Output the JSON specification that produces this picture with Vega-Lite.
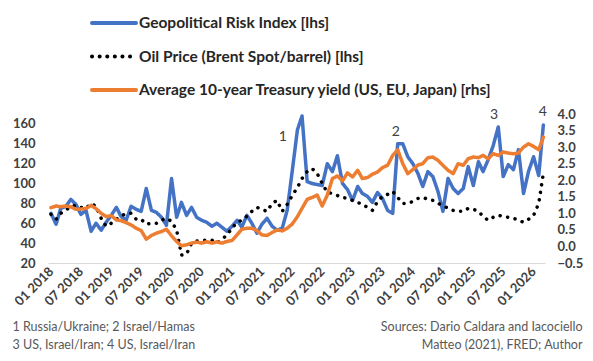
{
  "$schema": "https://vega.github.io/schema/vega-lite/v6.json",
  "width": 497,
  "height": 149,
  "autosize": {"type": "none"},
  "padding": {"left": 48, "top": 114, "right": 48, "bottom": 98},
  "background": "white",
  "config": {"view": {"stroke": null}, "font": "Lato"},
  "datasets": {
    "main": [
      {"date": "2018-01-01", "gpr": 70, "oil": 69, "yld": 1.17},
      {"date": "2018-02-01", "gpr": 59, "oil": 64, "yld": 1.22},
      {"date": "2018-03-01", "gpr": 75, "oil": 70, "yld": 1.2},
      {"date": "2018-04-01", "gpr": 77, "oil": 73, "yld": 1.22},
      {"date": "2018-05-01", "gpr": 84, "oil": 77, "yld": 1.2},
      {"date": "2018-06-01", "gpr": 79, "oil": 78, "yld": 1.12},
      {"date": "2018-07-01", "gpr": 69, "oil": 76, "yld": 1.13},
      {"date": "2018-08-01", "gpr": 73, "oil": 75, "yld": 1.15},
      {"date": "2018-09-01", "gpr": 52, "oil": 80, "yld": 1.24},
      {"date": "2018-10-01", "gpr": 60, "oil": 77, "yld": 1.14},
      {"date": "2018-11-01", "gpr": 53, "oil": 65, "yld": 1.0},
      {"date": "2018-12-01", "gpr": 61, "oil": 57, "yld": 0.9},
      {"date": "2019-01-01", "gpr": 68, "oil": 60, "yld": 0.93},
      {"date": "2019-02-01", "gpr": 76, "oil": 64, "yld": 0.8},
      {"date": "2019-03-01", "gpr": 67, "oil": 67, "yld": 0.78},
      {"date": "2019-04-01", "gpr": 63, "oil": 70, "yld": 0.72},
      {"date": "2019-05-01", "gpr": 77, "oil": 70, "yld": 0.65},
      {"date": "2019-06-01", "gpr": 74, "oil": 64, "yld": 0.55},
      {"date": "2019-07-01", "gpr": 72, "oil": 64, "yld": 0.48},
      {"date": "2019-08-01", "gpr": 95, "oil": 59, "yld": 0.22},
      {"date": "2019-09-01", "gpr": 73, "oil": 60, "yld": 0.33},
      {"date": "2019-10-01", "gpr": 71, "oil": 60, "yld": 0.4},
      {"date": "2019-11-01", "gpr": 66, "oil": 63, "yld": 0.45},
      {"date": "2019-12-01", "gpr": 58, "oil": 65, "yld": 0.52},
      {"date": "2020-01-01", "gpr": 105, "oil": 62, "yld": 0.32},
      {"date": "2020-02-01", "gpr": 66, "oil": 53, "yld": 0.15},
      {"date": "2020-03-01", "gpr": 81, "oil": 28, "yld": 0.02},
      {"date": "2020-04-01", "gpr": 68, "oil": 29, "yld": 0.05},
      {"date": "2020-05-01", "gpr": 76, "oil": 40, "yld": 0.1},
      {"date": "2020-06-01", "gpr": 66, "oil": 42, "yld": 0.13},
      {"date": "2020-07-01", "gpr": 63, "oil": 43, "yld": 0.1},
      {"date": "2020-08-01", "gpr": 61, "oil": 43, "yld": 0.14},
      {"date": "2020-09-01", "gpr": 57, "oil": 43, "yld": 0.1},
      {"date": "2020-10-01", "gpr": 60, "oil": 40, "yld": 0.14},
      {"date": "2020-11-01", "gpr": 56, "oil": 44, "yld": 0.1},
      {"date": "2020-12-01", "gpr": 52, "oil": 48, "yld": 0.15},
      {"date": "2021-01-01", "gpr": 57, "oil": 55, "yld": 0.18},
      {"date": "2021-02-01", "gpr": 63, "oil": 61, "yld": 0.35},
      {"date": "2021-03-01", "gpr": 56, "oil": 63, "yld": 0.52},
      {"date": "2021-04-01", "gpr": 68, "oil": 67, "yld": 0.55},
      {"date": "2021-05-01", "gpr": 60, "oil": 72, "yld": 0.55},
      {"date": "2021-06-01", "gpr": 50, "oil": 76, "yld": 0.48},
      {"date": "2021-07-01", "gpr": 59, "oil": 74, "yld": 0.35},
      {"date": "2021-08-01", "gpr": 65, "oil": 72, "yld": 0.33},
      {"date": "2021-09-01", "gpr": 57, "oil": 80, "yld": 0.42},
      {"date": "2021-10-01", "gpr": 53, "oil": 83, "yld": 0.5},
      {"date": "2021-11-01", "gpr": 55, "oil": 72, "yld": 0.47},
      {"date": "2021-12-01", "gpr": 73, "oil": 79, "yld": 0.55},
      {"date": "2022-01-01", "gpr": 113, "oil": 88, "yld": 0.68},
      {"date": "2022-02-01", "gpr": 154, "oil": 96, "yld": 0.9},
      {"date": "2022-03-01", "gpr": 168, "oil": 105, "yld": 1.15},
      {"date": "2022-04-01", "gpr": 102, "oil": 112, "yld": 1.42},
      {"date": "2022-05-01", "gpr": 100, "oil": 115, "yld": 1.48},
      {"date": "2022-06-01", "gpr": 99, "oil": 110, "yld": 1.55},
      {"date": "2022-07-01", "gpr": 98, "oil": 100, "yld": 1.22},
      {"date": "2022-08-01", "gpr": 120, "oil": 91, "yld": 1.55},
      {"date": "2022-09-01", "gpr": 112, "oil": 90, "yld": 2.05},
      {"date": "2022-10-01", "gpr": 128, "oil": 88, "yld": 2.13},
      {"date": "2022-11-01", "gpr": 100, "oil": 86, "yld": 1.98},
      {"date": "2022-12-01", "gpr": 94, "oil": 85, "yld": 2.22},
      {"date": "2023-01-01", "gpr": 83, "oil": 83, "yld": 2.1},
      {"date": "2023-02-01", "gpr": 97, "oil": 81, "yld": 2.3},
      {"date": "2023-03-01", "gpr": 90, "oil": 79, "yld": 2.05},
      {"date": "2023-04-01", "gpr": 87, "oil": 76, "yld": 2.08},
      {"date": "2023-05-01", "gpr": 81, "oil": 73, "yld": 2.18},
      {"date": "2023-06-01", "gpr": 91, "oil": 82, "yld": 2.25},
      {"date": "2023-07-01", "gpr": 85, "oil": 87, "yld": 2.38},
      {"date": "2023-08-01", "gpr": 73, "oil": 89, "yld": 2.45},
      {"date": "2023-09-01", "gpr": 70, "oil": 92, "yld": 2.75},
      {"date": "2023-10-01", "gpr": 140, "oil": 86, "yld": 2.92},
      {"date": "2023-11-01", "gpr": 140, "oil": 80, "yld": 2.5},
      {"date": "2023-12-01", "gpr": 127, "oil": 80, "yld": 2.2},
      {"date": "2024-01-01", "gpr": 120, "oil": 82, "yld": 2.32},
      {"date": "2024-02-01", "gpr": 110, "oil": 85, "yld": 2.46},
      {"date": "2024-03-01", "gpr": 97, "oil": 86, "yld": 2.5},
      {"date": "2024-04-01", "gpr": 112, "oil": 84, "yld": 2.68},
      {"date": "2024-05-01", "gpr": 107, "oil": 83, "yld": 2.7},
      {"date": "2024-06-01", "gpr": 92, "oil": 80, "yld": 2.6},
      {"date": "2024-07-01", "gpr": 72, "oil": 78, "yld": 2.45},
      {"date": "2024-08-01", "gpr": 105, "oil": 75, "yld": 2.3},
      {"date": "2024-09-01", "gpr": 95, "oil": 73, "yld": 2.2},
      {"date": "2024-10-01", "gpr": 90, "oil": 72, "yld": 2.5},
      {"date": "2024-11-01", "gpr": 95, "oil": 72, "yld": 2.45},
      {"date": "2024-12-01", "gpr": 117, "oil": 75, "yld": 2.65},
      {"date": "2025-01-01", "gpr": 98, "oil": 74, "yld": 2.7},
      {"date": "2025-02-01", "gpr": 122, "oil": 72, "yld": 2.68},
      {"date": "2025-03-01", "gpr": 112, "oil": 67, "yld": 2.75},
      {"date": "2025-04-01", "gpr": 124, "oil": 63, "yld": 2.65},
      {"date": "2025-05-01", "gpr": 138, "oil": 66, "yld": 2.8},
      {"date": "2025-06-01", "gpr": 157, "oil": 68, "yld": 2.75},
      {"date": "2025-07-01", "gpr": 107, "oil": 67, "yld": 2.85},
      {"date": "2025-08-01", "gpr": 119, "oil": 66, "yld": 2.82},
      {"date": "2025-09-01", "gpr": 114, "oil": 65, "yld": 2.8},
      {"date": "2025-10-01", "gpr": 134, "oil": 63, "yld": 2.82},
      {"date": "2025-11-01", "gpr": 90, "oil": 61, "yld": 3.0},
      {"date": "2025-12-01", "gpr": 112, "oil": 64, "yld": 3.1},
      {"date": "2026-01-01", "gpr": 127, "oil": 68, "yld": 3.02},
      {"date": "2026-02-01", "gpr": 108, "oil": 80, "yld": 2.92},
      {"date": "2026-03-01", "gpr": 159, "oil": 110, "yld": 3.3}
    ],
    "notes": [
      {"date": "2021-11-05", "value": 147, "label": "1"},
      {"date": "2023-09-20", "value": 152, "label": "2"},
      {"date": "2025-05-07", "value": 169, "label": "3"},
      {"date": "2026-02-26", "value": 172, "label": "4"}
    ]
  },
  "layer": [
    {
      "data": {"name": "main"},
      "transform": [{"fold": ["gpr", "oil"], "as": ["series", "value"]}],
      "mark": {"type": "line", "strokeWidth": 3.5, "strokeCap": "round", "strokeJoin": "round"},
      "encoding": {
        "x": {
          "field": "date", "type": "temporal",
          "scale": {"type": "utc", "domain": [{"year": 2017, "month": 12, "date": 14, "utc": true}, {"year": 2026, "month": 3, "date": 11, "utc": true}], "nice": false},
          "axis": {
            "orient": "bottom", "format": "%m %Y", "tickCount": {"interval": "month", "step": 6},
            "labelAngle": -45, "labelAlign": "right", "labelBaseline": "middle", "labelPadding": 6,
            "labelFont": "Lato", "labelFontWeight": "bold", "labelFontSize": 13, "labelColor": "#404040",
            "labelOverlap": false, "labelFlush": false,
            "ticks": false, "grid": false, "domainColor": "#d9d9d9", "domainWidth": 1,
            "title": ["1 Russia/Ukraine; 2 Israel/Hamas", "3 US, Israel/Iran; 4 US, Israel/Iran"],
            "titleAnchor": "start", "titleAlign": "left", "titleBaseline": "alphabetic",
            "titleX": -36, "titleY": 67, "titleFont": "Lato", "titleFontWeight": "normal",
            "titleFontSize": 12.5, "titleColor": "#595959", "titleLineHeight": 18
          }
        },
        "y": {
          "field": "value", "type": "quantitative",
          "scale": {"domain": [20, 170], "nice": false, "zero": false},
          "axis": {
            "orient": "left", "values": [20, 40, 60, 80, 100, 120, 140, 160],
            "grid": false, "domain": false, "ticks": false, "labelPadding": 13,
            "labelFont": "Lato", "labelFontWeight": "bold", "labelFontSize": 13, "labelColor": "#404040",
            "title": null
          }
        },
        "color": {
          "field": "series", "type": "nominal",
          "scale": {"domain": ["gpr", "oil", "yld"], "range": ["#4472C4", "#000000", "#ED7D31"]},
          "legend": {
            "orient": "none", "legendX": 53, "legendY": -104, "direction": "vertical", "title": null,
            "symbolType": "M-2,0H2", "symbolSize": 484, "symbolStrokeWidth": 4, "rowPadding": 11.5,
            "labelFont": "Lato", "labelFontWeight": "bold", "labelFontSize": 15.5, "labelColor": "#262626",
            "labelLimit": 600, "labelOffset": 12,
            "labelExpr": "datum.value == 'gpr' ? 'Geopolitical Risk Index [lhs]' : datum.value == 'oil' ? 'Oil Price (Brent Spot/barrel) [lhs]' : 'Average 10-year Treasury yield (US, EU, Japan) [rhs]'",
            "encode": {"symbols": {"update": {"strokeCap": {"value": "round"}}}}
          }
        },
        "strokeDash": {
          "field": "series", "type": "nominal",
          "scale": {"domain": ["gpr", "oil", "yld"], "range": [[1, 0], [0.1, 7.5], [1, 0]]},
          "legend": {
            "orient": "none", "legendX": 53, "legendY": -104, "direction": "vertical", "title": null,
            "symbolType": "M-2,0H2", "symbolSize": 484, "symbolStrokeWidth": 4, "rowPadding": 11.5,
            "labelFont": "Lato", "labelFontWeight": "bold", "labelFontSize": 15.5, "labelColor": "#262626",
            "labelLimit": 600, "labelOffset": 12,
            "labelExpr": "datum.value == 'gpr' ? 'Geopolitical Risk Index [lhs]' : datum.value == 'oil' ? 'Oil Price (Brent Spot/barrel) [lhs]' : 'Average 10-year Treasury yield (US, EU, Japan) [rhs]'",
            "encode": {"symbols": {"update": {"strokeCap": {"value": "round"}}}}
          }
        }
      }
    },
    {
      "data": {"name": "notes"},
      "mark": {"type": "text", "font": "Lato", "fontSize": 14, "color": "#404040", "align": "center", "baseline": "middle"},
      "encoding": {
        "x": {"field": "date", "type": "temporal", "axis": null},
        "y": {"field": "value", "type": "quantitative", "scale": {"domain": [20, 170], "nice": false, "zero": false}, "axis": null},
        "text": {"field": "label"}
      }
    },
    {
      "data": {"name": "main"},
      "transform": [{"fold": ["yld"], "as": ["series", "value"]}],
      "mark": {"type": "line", "strokeWidth": 3.5, "strokeCap": "round", "strokeJoin": "round"},
      "encoding": {
        "x": {
          "field": "date", "type": "temporal",
          "axis": {
            "orient": "bottom", "labels": false, "ticks": false, "domain": false, "grid": false,
            "title": ["Sources: Dario Caldara and Iacociello", "Matteo (2021), FRED; Author"],
            "titleAnchor": "end", "titleAlign": "right", "titleBaseline": "alphabetic",
            "titleX": 534, "titleY": 67, "titleFont": "Lato", "titleFontWeight": "normal",
            "titleFontSize": 12.5, "titleColor": "#595959", "titleLineHeight": 18
          }
        },
        "y": {
          "field": "value", "type": "quantitative",
          "scale": {"domain": [-0.5, 4.0], "nice": false, "zero": false},
          "axis": {
            "orient": "right", "values": [-0.5, 0, 0.5, 1, 1.5, 2, 2.5, 3, 3.5, 4], "format": ".1f",
            "grid": false, "domain": false, "ticks": false, "labelPadding": 12,
            "labelFont": "Lato", "labelFontWeight": "bold", "labelFontSize": 13, "labelColor": "#404040",
            "title": null
          }
        },
        "color": {"field": "series", "type": "nominal"},
        "strokeDash": {"field": "series", "type": "nominal"}
      }
    }
  ],
  "resolve": {"scale": {"y": "independent"}, "axis": {"x": "independent"}}
}
